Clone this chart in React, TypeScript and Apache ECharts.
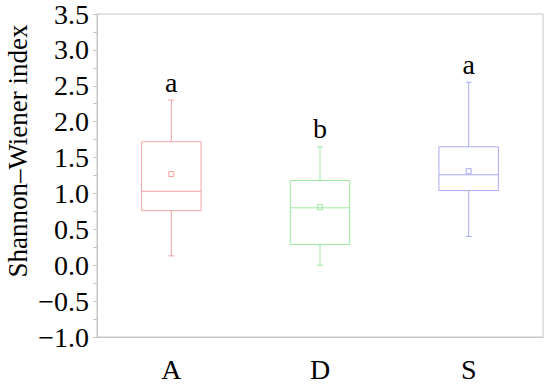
import React, { useEffect, useRef } from "react";
import * as echarts from "echarts";

const categories = ["A", "D", "S"];
const lows = [0.13, 0.0, 0.4];
const q1s = [0.76, 0.29, 1.04];
const medians = [1.03, 0.8, 1.26];
const q3s = [1.72, 1.18, 1.65];
const highs = [2.3, 1.65, 2.55];
const means = [1.27, 0.81, 1.31];
const letters = ["a", "b", "a"];
const colors = ["#f4a2a2", "#9ce89c", "#a9a9f2"];
const yTicks = { min: -1, max: 3.5, interval: 0.5 };
const yName = "Shannon\u2013Wiener index";

const FONT = "Liberation Serif";
const AXIS = "#c6c6c6";

export default function App() {
  const ref = useRef<HTMLDivElement>(null);
  useEffect(() => {
    if (!ref.current) return;
    const chart = echarts.init(ref.current, undefined, { renderer: "svg" });
    const data = categories.map((c, i) => [i, lows[i], q1s[i], medians[i], q3s[i], highs[i], means[i]]);
    chart.setOption({
      animation: false,
      grid: { left: 97, right: 7, top: 6, bottom: 47, show: true, borderColor: AXIS, borderWidth: 1 },
      xAxis: {
        type: "category",
        data: categories,
        axisLine: { onZero: false, lineStyle: { color: AXIS } },
        axisTick: { alignWithLabel: true, length: 6, lineStyle: { color: AXIS } },
        axisLabel: { color: "#000", fontFamily: FONT, fontSize: 28, margin: 18 },
        splitLine: { show: false },
      },
      yAxis: {
        type: "value",
        min: yTicks.min,
        max: yTicks.max,
        interval: yTicks.interval,
        axisLine: { show: true, lineStyle: { color: AXIS } },
        axisTick: { show: true, length: 4, lineStyle: { color: AXIS } },
        minorTick: { show: true, splitNumber: 2, length: 4, lineStyle: { color: AXIS } },
        splitLine: { show: false },
        axisLabel: {
          color: "#000",
          fontFamily: FONT,
          fontSize: 28,
          margin: 8,
          showMinLabel: true,
          showMaxLabel: true,
          verticalAlign: "middle",
          padding: [20, 0, 0, 0],
          formatter: (v: number) => (v < 0 ? "\u2212" + Math.abs(v).toFixed(1) : v.toFixed(1)),
        },
      },
      graphic: [
        {
          type: "text",
          x: 18,
          y: 151,
          rotation: Math.PI / 2,
          style: {
            text: yName,
            fontFamily: FONT,
            fontSize: 27,
            fill: "#000",
            align: "center",
            verticalAlign: "middle",
          },
        },
      ],
      series: [
        {
          type: "custom",
          data,
          encode: { x: 0, y: [1, 2, 3, 4, 5, 6] },
          renderItem: (params: any, api: any) => {
            const idx = api.value(0);
            const col = colors[idx];
            const x = api.coord([idx, 0])[0];
            const yy = (k: number) => api.coord([idx, api.value(k)])[1];
            const yLow = yy(1), yQ1 = yy(2), yMed = yy(3), yQ3 = yy(4), yHigh = yy(5), yMean = yy(6);
            const w = api.size([1, 0])[0] * 0.4;
            const ls = { stroke: col, lineWidth: 1, fill: "none" };
            const cap = 3;
            const m = 2.5;
            return {
              type: "group",
              children: [
                { type: "rect", shape: { x: x - w / 2, y: yQ3, width: w, height: yQ1 - yQ3 }, style: { stroke: col, fill: "none", lineWidth: 1 } },
                { type: "line", shape: { x1: x - w / 2, y1: yMed, x2: x + w / 2, y2: yMed }, style: ls },
                { type: "line", shape: { x1: x, y1: yQ3, x2: x, y2: yHigh }, style: ls },
                { type: "line", shape: { x1: x, y1: yQ1, x2: x, y2: yLow }, style: ls },
                { type: "line", shape: { x1: x - cap, y1: yHigh, x2: x + cap, y2: yHigh }, style: ls },
                { type: "line", shape: { x1: x - cap, y1: yLow, x2: x + cap, y2: yLow }, style: ls },
                { type: "rect", shape: { x: x - m, y: yMean - m, width: 2 * m, height: 2 * m }, style: { stroke: col, fill: "none", lineWidth: 1 } },
                {
                  type: "text",
                  x,
                  y: yHigh - 4,
                  style: { text: letters[idx], fontFamily: FONT, fontSize: 28, fill: "#000", align: "center", verticalAlign: "bottom" },
                },
              ],
            };
          },
        },
      ],
    });
    return () => chart.dispose();
  }, []);
  return <div ref={ref} style={{ width: 550, height: 384, position: "absolute", left: 0, top: 0 }} />;
}
